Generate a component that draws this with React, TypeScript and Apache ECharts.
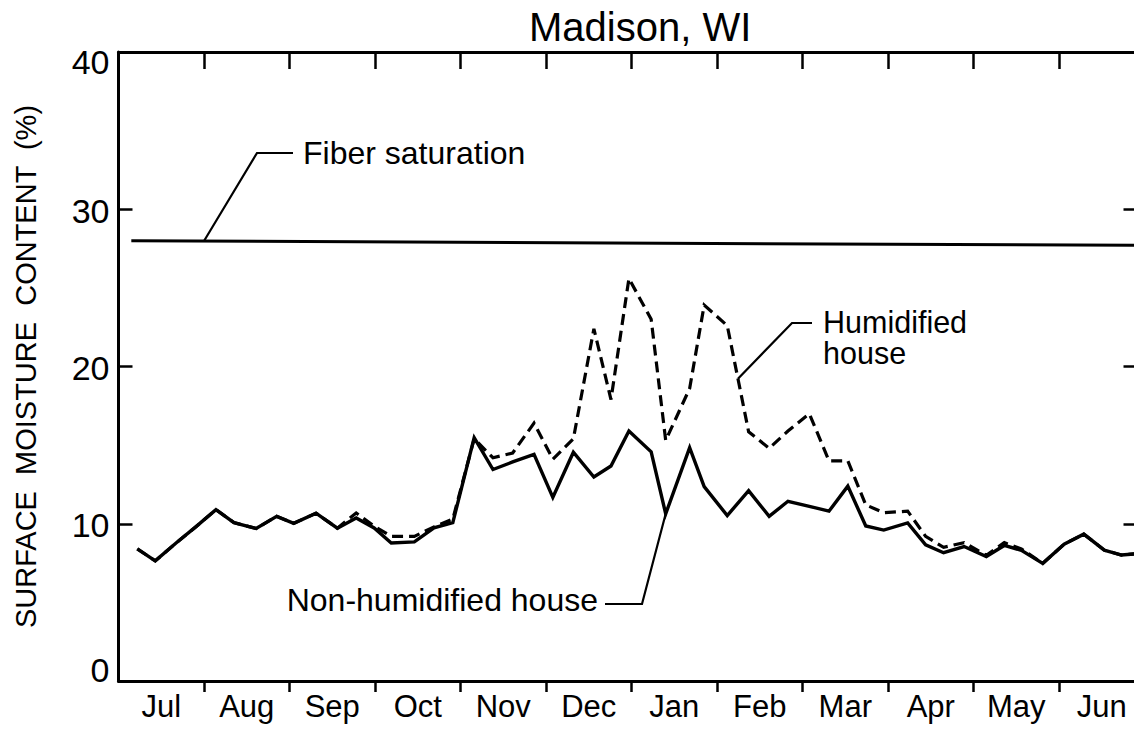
import React, { useEffect, useRef } from "react";
import * as echarts from "echarts";

const FONT = '"Liberation Sans", Arial, Helvetica, sans-serif';

const monthLabels = ["Jul", "Aug", "Sep", "Oct", "Nov", "Dec", "Jan", "Feb", "Mar", "Apr", "May", "Jun"];
const monthTicks = [1, 2, 3, 4, 5, 6, 7, 8, 9, 10, 11];
const monthLabelPos = [0.5, 1.5, 2.5, 3.5, 4.5, 5.5, 6.5, 7.5, 8.5, 9.5, 10.5, 11.5];
const yTicks = [10, 20, 30];

// sample dates, in months after 1 July
const samplePos = [
  0.22, 0.43, 0.67, 0.91, 1.14, 1.35, 1.61, 1.85, 2.05, 2.31,
  2.56, 2.78, 2.99, 3.19, 3.46, 3.69, 3.91, 4.16, 4.38, 4.61,
  4.86, 5.08, 5.32, 5.56, 5.76, 5.97, 6.23, 6.40, 6.68, 6.85,
  7.12, 7.37, 7.61, 7.83, 8.08, 8.31, 8.53, 8.74, 8.95, 9.23,
  9.44, 9.65, 9.89, 10.15, 10.36, 10.56, 10.81, 11.06, 11.29, 11.53,
  11.73, 11.88,
];

const nonHumidified = [
  8.4, 7.64, 8.76, 9.83, 10.9, 10.07, 9.7, 10.47, 10.03, 10.67,
  9.72, 10.37, 9.73, 8.78, 8.85, 9.74, 10.07, 15.48, 13.45, 13.93,
  14.41, 11.68, 14.55, 12.97, 13.67, 15.9, 14.57, 10.63, 14.84, 12.36,
  10.52, 12.11, 10.47, 11.43, 11.11, 10.8, 12.39, 9.86, 9.6, 10.05,
  8.66, 8.16, 8.55, 7.92, 8.62, 8.31, 7.48, 8.7, 9.34, 8.32,
  8.01, 8.08,
];

const humidified = [
  8.4, 7.64, 8.76, 9.83, 10.9, 10.07, 9.7, 10.47, 10.03, 10.67,
  9.72, 10.68, 9.85, 9.2, 9.2, 9.8, 10.3, 15.4, 14.2, 14.5,
  16.4, 14.1, 15.4, 22.4, 17.9, 25.6, 23.0, 15.3, 18.6, 23.9,
  22.6, 15.85, 14.8, 15.9, 17.0, 14.0, 14.0, 11.2, 10.7, 10.8,
  9.2, 8.5, 8.8, 8.0, 8.8, 8.4, 7.48, 8.7, 9.34, 8.32,
  8.01, 8.08,
];

const fiberPos = [0.15, 12];
const fiberSaturation = [28.0, 27.7];

export default function App() {
  const ref = useRef<HTMLDivElement>(null);

  useEffect(() => {
    if (!ref.current) return;
    const chart = echarts.init(ref.current, null, { renderer: "svg" });
    const black = "#000";
    const option: any = {
      animation: false,
      backgroundColor: "#fff",
      title: {
        text: "Madison, WI",
        left: 524,
        top: 2,
        textStyle: { fontSize: 40, fontWeight: "normal", color: black, fontFamily: FONT },
      },
      grid: { left: 118.5, top: 52, width: 1026, height: 629, containLabel: false, outerBoundsMode: "none" },
      xAxis: [
        {
          type: "value",
          position: "bottom",
          min: 0,
          max: 12,
          axisLine: { show: true, onZero: false, lineStyle: { color: black, width: 3 } },
          axisTick: { show: true, inside: false, length: 11, lineStyle: { color: black, width: 2.5 }, customValues: monthTicks },
          axisLabel: {
            customValues: monthLabelPos,
            formatter: (v: number) => monthLabels[Math.floor(v)] || "",
            fontSize: 31,
            color: black,
            fontFamily: FONT,
            margin: 10,
          },
          splitLine: { show: false },
        },
        {
          type: "value",
          position: "top",
          min: 0,
          max: 12,
          axisLine: { show: true, onZero: false, lineStyle: { color: black, width: 3 } },
          axisTick: { show: true, inside: true, length: 17, lineStyle: { color: black, width: 2.5 }, customValues: monthTicks },
          axisLabel: { show: false },
          splitLine: { show: false },
        },
      ],
      yAxis: [
        {
          type: "value",
          position: "left",
          min: 0,
          max: 40,
          interval: 10,
          name: "SURFACE  MOISTURE  CONTENT  (%)",
          nameLocation: "middle",
          nameRotate: 90,
          nameGap: 78,
          nameTextStyle: { fontSize: 29, color: black, fontFamily: FONT },
          axisLine: { show: true, onZero: false, lineStyle: { color: black, width: 3 } },
          axisTick: { show: true, inside: true, length: 14, lineStyle: { color: black, width: 2.5 }, customValues: yTicks },
          axisLabel: {
            margin: 9,
            formatter: (v: number) => (v === 0 ? "{z|0}" : v === 40 ? "{f|40}" : "{n|" + v + "}"),
            rich: {
              z: { fontSize: 34, color: black, fontFamily: FONT, padding: [0, 0, 23, 0] },
              f: { fontSize: 34, color: black, fontFamily: FONT, padding: [20, 0, 0, 0] },
              n: { fontSize: 34, color: black, fontFamily: FONT, padding: [3, 0, 0, 0] },
            },
          },
          splitLine: { show: false },
        },
        {
          type: "value",
          position: "right",
          min: 0,
          max: 40,
          interval: 10,
          axisLine: { show: true, onZero: false, lineStyle: { color: black, width: 3 } },
          axisTick: { show: true, inside: true, length: 21, lineStyle: { color: black, width: 2.5 }, customValues: yTicks },
          axisLabel: { show: false },
          splitLine: { show: false },
        },
      ],
      series: [
        {
          name: "Fiber saturation",
          type: "line",
          xAxisIndex: 0,
          yAxisIndex: 0,
          data: fiberPos.map((x, i) => [x, fiberSaturation[i]]),
          symbol: "none",
          lineStyle: { color: black, width: 3 },
        },
        {
          name: "Humidified house",
          type: "line",
          xAxisIndex: 0,
          yAxisIndex: 0,
          data: samplePos.map((x, i) => [x, humidified[i]]),
          symbol: "none",
          lineStyle: { color: black, width: 3.2, type: [11, 6], join: "miter" },
        },
        {
          name: "Non-humidified house",
          type: "line",
          xAxisIndex: 0,
          yAxisIndex: 0,
          data: samplePos.map((x, i) => [x, nonHumidified[i]]),
          symbol: "none",
          lineStyle: { color: black, width: 3.4, join: "miter" },
        },
      ],
    };
    chart.setOption(option);

    const px = (x: number, y: number) =>
      chart.convertToPixel({ xAxisIndex: 0, yAxisIndex: 0 }, [x, y]) as number[];

    // anchors on the curves
    const fiberAnchorX = 1.0;
    const fiberAnchorY =
      fiberSaturation[0] +
      ((fiberSaturation[1] - fiberSaturation[0]) * (fiberAnchorX - fiberPos[0])) / (fiberPos[1] - fiberPos[0]);
    const fA = px(fiberAnchorX, fiberAnchorY);
    const h1 = px(samplePos[30], humidified[30]);
    const h2 = px(samplePos[31], humidified[31]);
    const hA = [(h1[0] + h2[0]) / 2, (h1[1] + h2[1]) / 2];
    const nA = px(samplePos[27], nonHumidified[27]);

    const leader = (pts: number[][]) => ({
      type: "polyline",
      shape: { points: pts },
      style: { stroke: black, lineWidth: 2.2, fill: null },
      silent: true,
    });
    const label = (text: string, x: number, y: number, align = "left", size = 32) => ({
      type: "text",
      x,
      y,
      style: { text, fill: black, fontSize: size, fontFamily: FONT, align, verticalAlign: "middle" },
      silent: true,
    });

    chart.setOption({
      graphic: [
        leader([fA, [257, 153], [293, 153]]),
        label("Fiber saturation", 303, 152.5),
        leader([hA, [792, 323], [812, 323]]),
        label("Humidified", 823, 322, "left", 30.5),
        label("house", 823, 353, "left", 30.5),
        leader([nA, [642, 604], [605, 604]]),
        label("Non-humidified house", 598, 600, "right"),
      ],
    });

    return () => chart.dispose();
  }, []);

  return (
    <div
      ref={ref}
      style={{ position: "absolute", left: 0, top: 0, width: 1134, height: 729, background: "#fff" }}
    />
  );
}
